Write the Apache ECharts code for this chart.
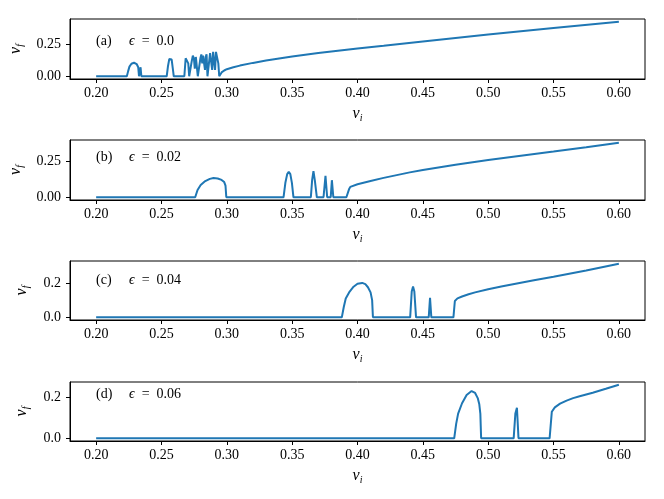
<!DOCTYPE html>
<html>
<head>
<meta charset="utf-8">
<script src="https://cdn.jsdelivr.net/npm/echarts@6.0.0/dist/echarts.min.js"></script>
<style>
  html, body { margin: 0; padding: 0; background: #fff; }
  #main { width: 664px; height: 499px; }
</style>
</head>
<body>
<div id="main"></div>
<script>
// values, one pair of arrays per panel
var viA = [0.2, 0.2235, 0.2245, 0.2255, 0.227, 0.229, 0.231, 0.2322, 0.2328, 0.2334, 0.2340, 0.2346,
    0.2540, 0.2550, 0.2560, 0.2568, 0.2578, 0.2588, 0.2594,
    0.2675, 0.2685, 0.2695, 0.2705, 0.2712, 0.2722, 0.2732, 0.2740, 0.2748, 0.2755, 0.2763, 0.2770, 0.2778,
    0.2788, 0.2798, 0.2805, 0.2812, 0.2818, 0.2826, 0.2833, 0.2838, 0.2845, 0.2852,
    0.2862, 0.2872, 0.2880, 0.2888, 0.2895, 0.2903, 0.2910, 0.2917, 0.2925, 0.2935, 0.2942,
    0.2948, 0.296, 0.298, 0.30, 0.305, 0.31, 0.32, 0.33, 0.34, 0.35, 0.36, 0.37, 0.38, 0.39, 0.40, 0.42,
    0.45, 0.50, 0.55, 0.60];
var vfA = [0, 0, 0.04, 0.075, 0.097, 0.105, 0.095, 0.07, 0, 0, 0.07, 0,
    0, 0.08, 0.135, 0.15, 0.13, 0.05, 0,
    0, 0.14, 0.15, 0.1, 0, 0, 0.12, 0.16, 0.14, 0.06, 0.15, 0.16, 0,
    0, 0.14, 0.17, 0.1, 0.16, 0.17, 0.05, 0.15, 0.17, 0,
    0, 0.18, 0.19, 0.05, 0.19, 0.2, 0.05, 0.19, 0.2, 0.1, 0,
    0.012, 0.03, 0.045, 0.055, 0.07, 0.083, 0.104, 0.122, 0.138, 0.153, 0.167, 0.18, 0.192, 0.204, 0.215, 0.237,
    0.271, 0.325, 0.376, 0.424];

var viB = [0.2, 0.2758, 0.2776, 0.280, 0.2835, 0.287, 0.2898, 0.293, 0.296, 0.2980, 0.2990, 0.2996,
    0.3434, 0.3448, 0.3462, 0.3474, 0.3486, 0.3498, 0.3510,
    0.3643, 0.3653, 0.3663, 0.3673, 0.3689, 0.3740, 0.3755, 0.3768, 0.3795, 0.3804, 0.3815,
    0.3915, 0.3935, 0.3945, 0.40, 0.41, 0.42, 0.43, 0.44, 0.45, 0.475, 0.50, 0.525, 0.55, 0.575, 0.60];
var vfB = [0, 0, 0.05, 0.085, 0.112, 0.127, 0.133, 0.13, 0.12, 0.105, 0.08, 0,
    0, 0.1, 0.16, 0.176, 0.16, 0.1, 0,
    0, 0.12, 0.18, 0.12, 0, 0, 0.148, 0, 0, 0.118, 0,
    0, 0.055, 0.072, 0.09, 0.113, 0.134, 0.153, 0.172, 0.189, 0.225, 0.257, 0.287, 0.316, 0.346, 0.377];

var viC = [0.2, 0.388, 0.3895, 0.3910, 0.394, 0.397, 0.400, 0.4036, 0.406, 0.408, 0.410, 0.4112, 0.4118,
    0.4403, 0.4415, 0.4425, 0.4435, 0.4448, 0.4545, 0.4555, 0.4565,
    0.4734, 0.4745, 0.4765, 0.480, 0.485, 0.490, 0.50, 0.51, 0.52, 0.535, 0.55, 0.575, 0.60];
var vfC = [0, 0, 0.06, 0.11, 0.15, 0.178, 0.195, 0.2, 0.193, 0.175, 0.145, 0.1, 0,
    0, 0.15, 0.18, 0.15, 0, 0, 0.113, 0,
    0, 0.095, 0.11, 0.121, 0.134, 0.145, 0.163, 0.179, 0.194, 0.215, 0.236, 0.272, 0.312];

var viD = [0.2, 0.474, 0.4755, 0.4770, 0.480, 0.4835, 0.4873, 0.490, 0.4920, 0.4932, 0.4940, 0.4946,
    0.5195, 0.5208, 0.5220, 0.5232, 0.547, 0.5487, 0.551, 0.555, 0.560, 0.565, 0.570, 0.580, 0.590, 0.60];
var vfD = [0, 0, 0.07, 0.12, 0.17, 0.21, 0.229, 0.22, 0.195, 0.165, 0.12, 0,
    0, 0.12, 0.148, 0, 0, 0.129, 0.15, 0.168, 0.183, 0.195, 0.204, 0.221, 0.24, 0.26];

var xTicks = [0.20, 0.25, 0.30, 0.35, 0.40, 0.45, 0.50, 0.55, 0.60];
var yTicksA = [0, 0.25];
var yTicksB = [0, 0.25];
var yTicksC = [0, 0.2];
var yTicksD = [0, 0.2];
var panelTags = ['(a)', '(b)', '(c)', '(d)'];
var epsLabels = ['0.0', '0.02', '0.04', '0.06'];

var FONT = 'Liberation Serif';
var panels = [
    {vi: viA, vf: vfA, ticks: yTicksA, dec: 2},
    {vi: viB, vf: vfB, ticks: yTicksB, dec: 2},
    {vi: viC, vf: vfC, ticks: yTicksC, dec: 1},
    {vi: viD, vf: vfD, ticks: yTicksD, dec: 1}
];
var gridTop = [19, 140, 261, 382];
var gridH = [60, 60, 59, 59];
var tagY = [41, 157.5, 280.5, 394];

var nameRich = {
    v: {fontFamily: FONT, fontStyle: 'italic', fontSize: 16, color: '#000'},
    s: {fontFamily: FONT, fontStyle: 'italic', fontSize: 10, color: '#000', padding: [9, 0, 0, 0]}
};

var grids = [], xAxes = [], yAxes = [], series = [], graphics = [];
panels.forEach(function (p, k) {
    var dmax = Math.max.apply(null, p.vf);
    var pad = dmax * 0.05;
    grids.push({
        left: 70, right: 19, top: gridTop[k], height: gridH[k],
        show: true, borderColor: '#000', borderWidth: 1, backgroundColor: 'transparent'
    });
    xAxes.push({
        type: 'value', gridIndex: k, min: 0.18, max: 0.62,
        name: '{v|v}{s|i}', nameLocation: 'middle', nameGap: 25,
        nameTextStyle: {rich: nameRich},
        axisLine: {show: true, onZero: false, lineStyle: {color: '#000', width: 1}},
        axisTick: {show: true, length: 4, lineStyle: {color: '#000'}, customValues: xTicks},
        axisLabel: {
            color: '#000', fontFamily: FONT, fontSize: 14, margin: 7, customValues: xTicks,
            formatter: function (v) { return v.toFixed(2); }
        },
        splitLine: {show: false}
    });
    yAxes.push({
        type: 'value', gridIndex: k, min: -pad, max: dmax + pad,
        name: '{v|v}{s|f}', nameLocation: 'middle', nameGap: 39, nameRotate: 90,
        nameTextStyle: {rich: nameRich},
        axisLine: {show: true, onZero: false, lineStyle: {color: '#000', width: 1}},
        axisTick: {show: true, length: 4, lineStyle: {color: '#000'}, customValues: p.ticks},
        axisLabel: {
            color: '#000', fontFamily: FONT, fontSize: 14, margin: 9, customValues: p.ticks,
            formatter: (function (d) { return function (v) { return v.toFixed(d); }; })(p.dec)
        },
        splitLine: {show: false}
    });
    series.push({
        type: 'line', xAxisIndex: k, yAxisIndex: k,
        data: p.vi.map(function (x, i) { return [x, p.vf[i]]; }),
        showSymbol: false, symbol: 'none', smooth: false,
        lineStyle: {color: '#1f77b4', width: 2},
        animation: false
    });
    graphics.push({
        type: 'text', x: 96, y: tagY[k],
        style: {text: panelTags[k], fontFamily: FONT, fontSize: 14, fill: '#000', verticalAlign: 'middle'}
    });
    graphics.push({
        type: 'text', x: 129, y: tagY[k],
        style: {
            text: '{e|ϵ}{r|  =  ' + epsLabels[k] + '}', verticalAlign: 'middle',
            rich: {
                e: {fontFamily: FONT, fontStyle: 'italic', fontSize: 14, fill: '#000'},
                r: {fontFamily: FONT, fontSize: 14, fill: '#000'}
            }
        }
    });
});

var myChart = echarts.init(document.getElementById('main'), null, {renderer: 'canvas'});
myChart.setOption({
    backgroundColor: '#fff',
    animation: false,
    grid: grids,
    xAxis: xAxes,
    yAxis: yAxes,
    series: series,
    graphic: graphics
});
</script>
</body>
</html>
